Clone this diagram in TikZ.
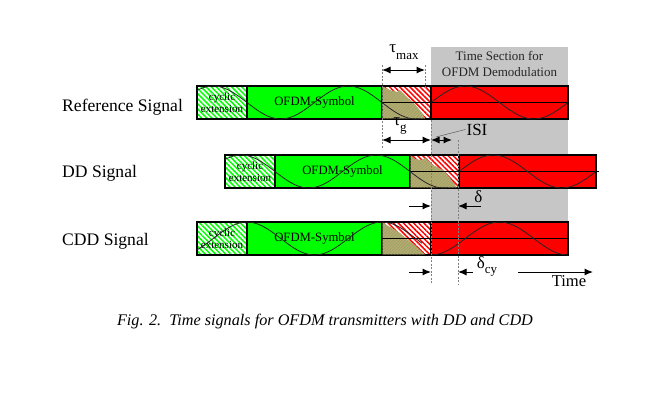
\documentclass[tikz,border=0pt]{standalone}
\usepackage{fontspec}
\setmainfont{Liberation Serif}
\usetikzlibrary{arrows.meta,patterns.meta,positioning}

\definecolor{symgreen}{RGB}{0,255,0}
\definecolor{nextred}{RGB}{255,0,0}
\definecolor{echokhaki}{RGB}{186,170,118}
\definecolor{echostripe}{RGB}{150,165,95}
\definecolor{demodgray}{RGB}{198,198,198}

\tikzset{
  sigbox/.style={draw,line width=1.1pt,inner sep=0pt,outer sep=0pt,minimum height=33pt},
  cpbox/.style={sigbox,minimum width=50pt,preaction={fill=white},
    pattern={Lines[angle=-45,distance=3.6pt,line width=1.5pt]},pattern color=symgreen,
    align=center,font=\fontsize{11}{12}\selectfont},
  symbox/.style={sigbox,minimum width=135pt,fill=symgreen,font=\fontsize{12.7}{14}\selectfont},
  isibox/.style={sigbox,minimum width=49pt,preaction={fill=white},
    pattern={Lines[angle=-45,distance=3.6pt,line width=1.5pt]},pattern color=nextred},
  redbox/.style={sigbox,minimum width=137pt,fill=nextred},
  echo/.style={fill=echokhaki,postaction={pattern={Lines[angle=45,distance=2.2pt,line width=0.7pt]},pattern color=echostripe}},
  wave/.style={line width=0.8pt,black!85},
  midline/.style={line width=0.8pt},
  guide/.style={gray,line width=0.6pt,dash pattern=on 2pt off 1.5pt},
  dim/.style={line width=1pt,{Latex[length=8.5pt,width=7pt]}-{Latex[length=8.5pt,width=7pt]}},
  dimin/.style={line width=1pt,-{Latex[length=8.5pt,width=7pt]}},
  siglabel/.style={anchor=base west,inner sep=0pt,font=\fontsize{17.6}{20}\selectfont},
  marklabel/.style={anchor=base,inner sep=1pt,font=\fontsize{17}{20}\selectfont},
}

\begin{document}
\begin{tikzpicture}[x=1pt,y=-1pt]
  \useasboundingbox (0,0) rectangle (646,400);

  % demodulation window
  \node[fill=demodgray,inner sep=0pt,minimum width=137pt,minimum height=175pt,anchor=north west] (demod) at (431,47) {};
  \node[anchor=base,inner sep=0pt,black!85,font=\fontsize{13}{15}\selectfont] (demodtop) at (499.5,60.7) {Time Section for};
  \node[anchor=base,inner sep=0pt,black!85,font=\fontsize{13}{15}\selectfont] (demodbot) at (499.5,76) {OFDM Demodulation};

  \node[siglabel] (refname) at (62,111.5) {Reference Signal};
  \node[siglabel] (ddname) at (62,177) {DD Signal};
  \node[siglabel] (cddname) at (62,245) {CDD Signal};

  % reference signal
  \begin{scope}[shift={(197,86)}]
    \node[cpbox,anchor=north west] (refcp) at (0,0) {cyclic\\extension};
    \node[symbox,right=0pt of refcp] (refsym) {OFDM-Symbol};
    \node[isibox,right=0pt of refsym] (refisi) {};
    \node[redbox,right=0pt of refisi] (refred) {};
    \fill[echo] (185.6,0.6) -- (193,4) -- (200,6) -- (203,4) -- (211,12) -- (216,16) -- (221,22) -- (225,27) -- (228,32.4) -- (185.6,32.4) -- cycle;
    \draw[midline] (refisi.west) -- (refred.east);
    \draw[wave] plot[domain=0:222,samples=80,smooth] (\x,{16.5+16.5*sin((\x-50)/135*360)});
    \draw[wave] plot[domain=234:371,samples=60,smooth] (\x,{16.5-16.5*sin((\x-234)/137*360)});
  \end{scope}

  % delayed copy
  \begin{scope}[shift={(225,155)}]
    \node[cpbox,anchor=north west] (ddcp) at (0,0) {cyclic\\extension};
    \node[symbox,right=0pt of ddcp] (ddsym) {OFDM-Symbol};
    \node[isibox,right=0pt of ddsym] (ddisi) {};
    \node[redbox,right=0pt of ddisi] (ddred) {};
    \fill[echo] (185.6,0.6) -- (190,4) -- (196,5) -- (200,3) -- (208,10) -- (218,15) -- (225,23) -- (230,30) -- (232,32.4) -- (185.6,32.4) -- cycle;
    \draw[midline] (ddisi.west) -- (374,16.5);
    \draw[wave] plot[domain=0:222,samples=80,smooth] (\x,{16.5+16.5*sin((\x-50)/135*360)});
    \draw[wave] plot[domain=234:371,samples=60,smooth] (\x,{16.5-16.5*sin((\x-234)/137*360)});
  \end{scope}

  % cyclic delayed copy
  \begin{scope}[shift={(197,222)}]
    \node[cpbox,anchor=north west] (cddcp) at (0,0) {cyclic\\extension};
    \node[symbox,right=0pt of cddcp] (cddsym) {OFDM-Symbol};
    \node[isibox,right=0pt of cddsym] (cddisi) {};
    \node[redbox,right=0pt of cddisi] (cddred) {};
    \fill[echo] (185.6,0.6) -- (193,5) -- (198,8) -- (203,11) -- (211,18) -- (218,23) -- (225,30) -- (228,32.4) -- (185.6,32.4) -- cycle;
    \draw[midline] (cddisi.west) -- (cddred.east);
    \draw[wave] plot[domain=0:225,samples=80,smooth] (\x,{16.5-16.5*cos((\x-50)/135*360)});
    \draw[wave] plot[domain=234:371,samples=60,smooth] (\x,{16.5+16.5*cos((\x-234)/137*360)});
  \end{scope}

  % guides
  \draw[guide] (382,65) -- (382,148);
  \draw[guide] (425,65) -- (425,88);
  \draw[guide] (431,120) -- (431,284);
  \draw[guide] (458,140) -- (458,284);

  % tau max, tau g, ISI
  \coordinate (tmaxL) at (382,70);
  \coordinate (tmaxR) at (425,70);
  \draw[dim] (tmaxL) -- (tmaxR);
  \node[marklabel] (tmax) at (404,52) {τ\raisebox{-7pt}{\fontsize{13}{13}\selectfont max}};

  \coordinate (tgL) at (382,140);
  \coordinate (tgR) at (431,140);
  \coordinate (isiR) at (452,140);
  \draw[dim] (tgL) -- (tgR);
  \draw[dim] (tgR) -- (isiR);
  \node[marklabel] (tg) at (400,125) {τ\raisebox{-6pt}{\fontsize{13}{13}\selectfont g}};

  \node[marklabel] (isi) at (477,135) {ISI};
  \coordinate (isiend) at (436,137);
  \draw[gray!70!black,line width=0.5pt] (isi.west) -- (isiend);

  % delta
  \coordinate (dLs) at (409,206);
  \coordinate (dLe) at (431,206);
  \coordinate (dRs) at (481,206);
  \coordinate (dRe) at (458,206);
  \draw[dimin] (dLs) -- (dLe);
  \draw[dimin] (dRs) -- (dRe);
  \node[marklabel] (delta) at (478.5,202) {δ};

  % delta cy
  \coordinate (cyLs) at (409,272);
  \coordinate (cyLe) at (431,272);
  \coordinate (cyRs) at (473,272);
  \coordinate (cyRe) at (458,272);
  \draw[dimin] (cyLs) -- (cyLe);
  \draw[dimin] (cyRs) -- (cyRe);
  \node[marklabel] (deltacy) at (487,268) {δ\raisebox{-5pt}{\fontsize{13}{13}\selectfont cy}};

  % time axis
  \coordinate (timeL) at (518,272);
  \coordinate (timeR) at (593,272);
  \draw[dimin] (timeL) -- (timeR);
  \node[marklabel,font=\fontsize{16.6}{18}\selectfont] (time) at (569,286) {Time};

  \node[anchor=base,inner sep=0pt,font=\itshape\fontsize{16.2}{18}\selectfont] (caption) at (325,325) {Fig. 2.\ \ Time signals for OFDM transmitters with DD and CDD};
\end{tikzpicture}
\end{document}
